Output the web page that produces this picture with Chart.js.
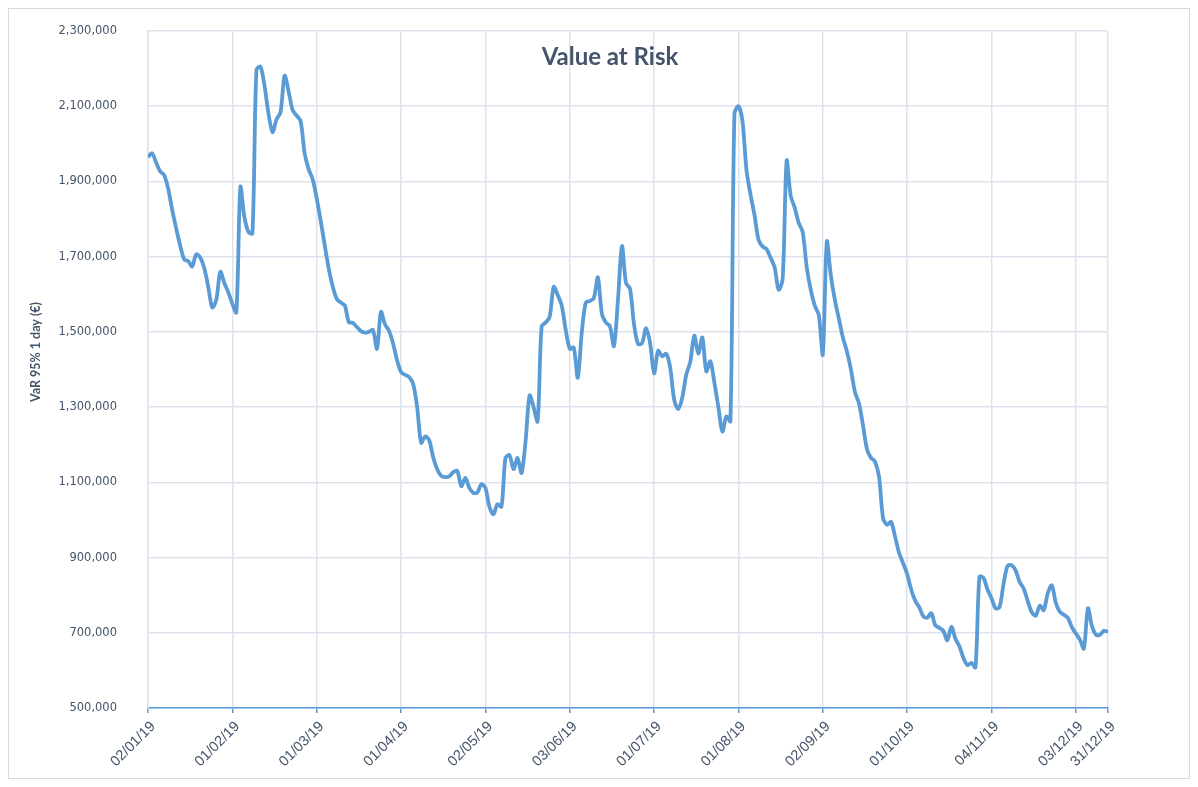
<!DOCTYPE html>
<html>
<head>
<meta charset="utf-8">
<title>Value at Risk</title>
<script src="https://cdn.jsdelivr.net/npm/chart.js@4.4.1/dist/chart.umd.min.js"></script>
<style>
  html, body { margin: 0; padding: 0; background: #ffffff; }
  #wrap { position: relative; width: 1198px; height: 787px; }
</style>
</head>
<body>
<div id="wrap"><canvas id="chart" width="1198" height="787"></canvas></div>
<script>
// Daily VaR 95% 1-day, 2019 (EUR)
const varValues = [
  1965000, 1975000, 1951000, 1927000, 1917000, 1882000, 1826000, 1776000, 1730000, 1693000,
  1688000, 1674000, 1706000, 1698000, 1670000, 1620000, 1565000, 1585000, 1660000, 1630000,
  1605000, 1575000, 1552000, 1885000, 1805000, 1766000, 1762000, 2197000, 2205000, 2155000,
  2080000, 2031000, 2065000, 2084000, 2181000, 2140000, 2090000, 2075000, 2060000, 1975000,
  1932000, 1906000, 1855000, 1795000, 1730000, 1668000, 1620000, 1588000, 1578000, 1570000,
  1526000, 1524000, 1513000, 1502000, 1498000, 1500000, 1505000, 1455000, 1553000, 1520000,
  1503000, 1470000, 1425000, 1393000, 1386000, 1380000, 1362000, 1301000, 1205000, 1222000,
  1212000, 1167000, 1135000, 1117000, 1114000, 1116000, 1127000, 1130000, 1090000, 1112000,
  1085000, 1072000, 1073000, 1095000, 1085000, 1035000, 1015000, 1042000, 1035000, 1165000,
  1172000, 1135000, 1165000, 1125000, 1210000, 1331000, 1300000, 1262000, 1515000, 1525000,
  1540000, 1620000, 1598000, 1570000, 1505000, 1455000, 1458000, 1378000, 1500000, 1578000,
  1582000, 1590000, 1645000, 1548000, 1525000, 1515000, 1462000, 1585000, 1728000, 1630000,
  1615000, 1520000, 1468000, 1470000, 1510000, 1470000, 1390000, 1450000, 1435000, 1442000,
  1405000, 1320000, 1295000, 1325000, 1386000, 1420000, 1490000, 1442000, 1485000, 1395000,
  1422000, 1365000, 1300000, 1235000, 1275000, 1262000, 2080000, 2100000, 2060000, 1930000,
  1865000, 1810000, 1745000, 1727000, 1720000, 1697000, 1672000, 1612000, 1640000, 1955000,
  1862000, 1830000, 1790000, 1765000, 1672000, 1612000, 1570000, 1545000, 1440000, 1740000,
  1650000, 1585000, 1535000, 1485000, 1448000, 1400000, 1340000, 1310000, 1252000, 1188000,
  1165000, 1155000, 1115000, 1005000, 987000, 995000, 955000, 912000, 885000, 856000,
  815000, 785000, 768000, 744000, 740000, 752000, 720000, 713000, 705000, 680000,
  716000, 685000, 664000, 633000, 614000, 620000, 608000, 849000, 846000, 815000,
  792000, 765000, 768000, 830000, 878000, 880000, 866000, 835000, 818000, 785000,
  755000, 745000, 772000, 760000, 805000, 826000, 780000, 756000, 748000, 740000,
  715000, 698000, 682000, 658000, 765000, 718000, 695000, 695000, 705000, 703000
];

// Trading-day positions that carry a date label
const tickIndex  = [0, 21, 42, 63, 84, 105, 126, 147, 168, 189, 210, 231, 239];
const tickLabels = ['02/01/19', '01/02/19', '01/03/19', '01/04/19', '02/05/19', '03/06/19',
                    '01/07/19', '01/08/19', '02/09/19', '01/10/19', '04/11/19', '03/12/19', '31/12/19'];

const yMin = 500000, yMax = 2300000, yStep = 200000;
const chartTitle = 'Value at Risk';
const yAxisTitle = 'VaR 95% 1 day (€)';

const gridColor = '#dde3ec';
const lineColor = '#5b9bd5';
const textColor = '#44546a';

const decorations = {
  id: 'decorations',
  beforeDraw(chart) {
    const ctx = chart.ctx;
    ctx.save();
    ctx.fillStyle = '#ffffff';
    ctx.fillRect(0, 0, chart.width, chart.height);
    ctx.strokeStyle = '#d9d9d9';
    ctx.lineWidth = 1;
    ctx.strokeRect(8.5, 8.5, chart.width - 17, chart.height - 17);
    ctx.restore();
  },
  afterDraw(chart) {
    const ctx = chart.ctx;
    ctx.save();
    ctx.fillStyle = textColor;
    ctx.textAlign = 'center';
    ctx.textBaseline = 'middle';
    ctx.font = 'bold 24px Lato, "Open Sans", sans-serif';
    ctx.fillText(chartTitle, 610, 57);
    ctx.translate(36, 352);
    ctx.rotate(-Math.PI / 2);
    ctx.font = 'bold 12.5px Lato, "Open Sans", sans-serif';
    ctx.fillText(yAxisTitle, 0, 0);
    ctx.restore();
  }
};

new Chart(document.getElementById('chart'), {
  type: 'line',
  data: {
    datasets: [{
      label: 'VaR',
      data: varValues.map((v, i) => ({ x: i, y: v })),
      borderColor: lineColor,
      borderWidth: 3.8,
      pointRadius: 0,
      tension: 0.3,
      fill: false
    }]
  },
  options: {
    responsive: false,
    animation: false,
    layout: { padding: { left: 0, top: 31, right: 90, bottom: 0 } },
    plugins: { legend: { display: false }, tooltip: { enabled: false }, title: { display: false } },
    scales: {
      x: {
        type: 'linear',
        min: 0,
        max: varValues.length - 1,
        afterBuildTicks(scale) { scale.ticks = tickIndex.map(v => ({ value: v })); },
        afterFit(scale) { scale.height = 79; scale.paddingLeft = 0; scale.paddingRight = 0; },
        grid: { color: gridColor, lineWidth: 1.5, tickColor: lineColor, tickLength: 5, drawTicks: true },
        border: { color: lineColor, width: 1.5 },
        ticks: {
          autoSkip: false,
          minRotation: 45,
          maxRotation: 45,
          padding: 5,
          labelOffset: 5,
          color: textColor,
          font: { family: '"Liberation Sans", Arial, sans-serif', size: 14.5 },
          callback(value) { const k = tickIndex.indexOf(value); return k >= 0 ? tickLabels[k] : ''; }
        }
      },
      y: {
        min: yMin,
        max: yMax,
        afterFit(scale) { scale.width = 148; scale.paddingTop = 0; scale.paddingBottom = 0; },
        grid: { color: gridColor, lineWidth: 1.5, drawTicks: false },
        border: { color: gridColor, width: 1.5 },
        ticks: {
          stepSize: yStep,
          padding: 31,
          color: textColor,
          font: { family: '"DejaVu Sans", sans-serif', size: 11.5 },
          callback(value) { return value.toLocaleString('en-US'); }
        }
      }
    }
  },
  plugins: [decorations]
});
</script>
</body>
</html>
